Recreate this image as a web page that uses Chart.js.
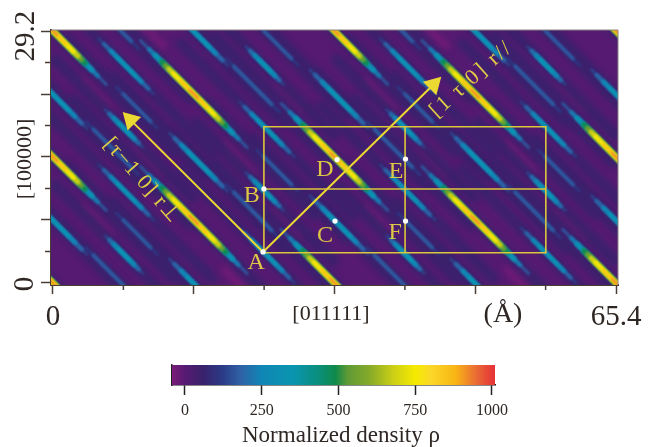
<!DOCTYPE html>
<html>
<head>
<meta charset="utf-8">
<title>Normalized density</title>
<script src="https://cdn.jsdelivr.net/npm/chart.js@4/dist/chart.umd.js"></script>
<style>
  html, body { margin: 0; padding: 0; background: #fff; }
  canvas { position: absolute; left: 0; }
  #densidade { top: 0; }
  #barra { top: 340px; }
</style>
</head>
<body>
<canvas id="densidade" width="653" height="340"></canvas>
<canvas id="barra" width="653" height="107"></canvas>
<script>
// axis ticks, in angstrom
const xTicks = [0, 8.175, 16.35, 24.525, 32.7, 40.875, 49.05, 57.225, 65.4];
const yTicks = [0, 3.65, 7.3, 10.95, 14.6, 18.25, 21.9, 25.55, 29.2];
const rhoTicks = [0, 125, 250, 375, 500, 625, 750, 875, 1000];

// colour bar
const rhoValues = [-42, 0, 60, 120, 180, 250, 350, 430, 490, 530, 600, 680, 750, 800, 880, 950, 1010];
const rhoColours = ["#7a1c78", "#561a72", "#38226c", "#2b3a85", "#2f60a5", "#0f86b5", "#0a95b0", "#0a8f80",
  "#0f8a4a", "#5f9a35", "#85aa2a", "#cdd015", "#f5ea00", "#fad828", "#f9b515", "#ea6a35", "#e62f38"];

const brightCentres = [[0, 0], [0, 14.6], [0, 29.2], [16.35, 7.3], [16.35, 21.9], [32.7, 0], [32.7, 14.6], [32.7, 29.2],
  [49.05, 7.3], [49.05, 21.9], [65.4, 0], [65.4, 14.6], [65.4, 29.2]];
const longCyanCentres = [[8.5, 25.1], [8.5, 10.5], [24.85, 17.8], [24.85, 3.2], [41.2, 25.1], [41.2, 10.5], [57.55, 17.8], [57.55, 3.2]];
const edgeCyanCentres = [[0.55, 21.3], [0.55, 6.7], [16.9, 28.6], [16.9, 14], [16.9, -0.6], [33.25, 21.3], [33.25, 6.7],
  [49.6, 28.6], [49.6, 14], [49.6, -0.6], [65.95, 21.3], [65.95, 6.7]];
const shortCyanCentres = [[8.25, 17.9], [8.25, 3.3], [24.6, 25.2], [24.6, 10.6], [40.95, 17.9], [40.95, 3.3], [57.3, 25.2], [57.3, 10.6]];
const shortBlueCentres = [[9.75, 20.3], [9.75, 5.7], [26.1, 27.6], [26.1, 13], [42.45, 20.3], [42.45, 5.7], [58.8, 27.6], [58.8, 13]];
const longBlueCentres = [[6.9, 30.2], [6.9, 15.6], [6.9, 1], [23.2, 22.9], [23.2, 8.3], [39.55, 30.2], [39.55, 15.6], [39.55, 1], [55.9, 22.9], [55.9, 8.3]];
const lowCentres = [[5.1, 21.8], [5.1, 7.2], [21.5, 14.5], [21.5, 0], [37.9, 21.8], [37.9, 7.2], [54.3, 14.5], [54.3, 0],
  [27.5, 21.8], [27.5, 7.2], [11.2, 14.5], [11.2, 29], [44.1, 29], [44.1, 14.5], [60.4, 21.8], [60.4, 7.2]];

// contours of one ridge [half length, rho]
const brightLevels = [[14, 55], [6.2, 170], [5.2, 230], [4.5, 320], [3.7, 480], [3.3, 560], [2.9, 680], [2.4, 760], [1.5, 860], [0.5, 950]];
const longCyanLevels = [[10, 55], [3.2, 130], [2.6, 190], [1.8, 260], [1.1, 340]];
const edgeCyanLevels = [[10, 55], [3.4, 140], [2.8, 190], [2, 260], [1.3, 340]];
const shortCyanLevels = [[8, 55], [2.2, 140], [1.7, 200], [1.2, 270], [0.7, 340]];
const shortBlueLevels = [[8, 55], [2.4, 120], [1.6, 170]];
const longBlueLevels = [[9, 55], [3.1, 120], [2.2, 170]];
const lowLevels = [[1.6, -40]];

// box, arrows and marked sites
const boxOutline = [[24.5, 3.5], [57.25, 3.5], [57.25, 18.1], [24.5, 18.1], [24.5, 3.5]];
const boxMiddle = [[24.5, 10.9], [57.25, 10.9]];
const boxDivider = [[40.9, 3.5], [40.9, 18.1]];
const arrowPerp = [[24.4, 3.6], [9.0, 18.9]];
const arrowPar = [[24.4, 3.6], [44.2, 23.0]];
const siteNames = ["A", "B", "C", "D", "E", "F"];
const sitePoints = [[24.4, 3.6], [24.5, 10.9], [32.76, 7.18], [33, 14.3], [40.95, 14.37], [40.95, 7.18]];
const siteLabels = [[23.6, 2.4], [23.1, 10.1], [31.6, 5.5], [31.6, 13.1], [39.85, 12.9], [39.75, 5.8]];

const serif = "'Liberation Serif', serif";
const inkColor = "#2e2723";
const axisColor = "#4a3d33";
const boxColor = "#dcc63c";
const arrowColor = "#ecd833";

function hexRgb(h) {
  return [1, 3, 5].map(i => parseInt(h.substr(i, 2), 16));
}

function rhoColour(rho) {
  let i = 0;
  while (i < rhoValues.length - 2 && rho > rhoValues[i + 1]) i++;
  const t = Math.min(1, Math.max(0, (rho - rhoValues[i]) / (rhoValues[i + 1] - rhoValues[i])));
  const a = hexRgb(rhoColours[i]);
  const b = hexRgb(rhoColours[i + 1]);
  return `rgb(${a.map((v, k) => Math.round(v + (b[k] - v) * t)).join(",")})`;
}

function ridgeDatasets(centres, levels, widths) {
  const out = [];
  centres.forEach(([cx, cy]) => {
    levels.forEach(([half, rho], i) => {
      out.push({
        data: [{ x: cx - half, y: cy + half }, { x: cx + half, y: cy - half }],
        showLine: true,
        borderColor: rhoColour(rho),
        borderWidth: widths[i],
        borderCapStyle: "round",
        pointRadius: 0,
        order: -rho,
        blur: rho < 100 ? 3 : 0.8
      });
    });
  });
  return out;
}

function lineDataset(points, color, width, extra) {
  return Object.assign({
    data: points.map(([x, y]) => ({ x, y })),
    showLine: true,
    borderColor: color,
    backgroundColor: color,
    borderWidth: width,
    pointRadius: 0,
    order: -5000
  }, extra || {});
}

const datasets = [
  ...ridgeDatasets(lowCentres, lowLevels, [6]),
  ...ridgeDatasets(brightCentres, brightLevels, [11, 2.6, 4.2, 5.2, 5.6, 5.2, 4.8, 4, 2.4, 1.4]),
  ...ridgeDatasets(longCyanCentres, longCyanLevels, [11, 2.4, 4, 4.2, 2.8]),
  ...ridgeDatasets(edgeCyanCentres, edgeCyanLevels, [11, 2.4, 4.4, 4.4, 3]),
  ...ridgeDatasets(shortCyanCentres, shortCyanLevels, [11, 2.4, 4.4, 4.4, 3]),
  ...ridgeDatasets(shortBlueCentres, shortBlueLevels, [9, 2.4, 3.6]),
  ...ridgeDatasets(longBlueCentres, longBlueLevels, [9, 2.4, 3.8]),
  lineDataset(boxOutline, boxColor, 1.6),
  lineDataset(boxMiddle, boxColor, 1.6),
  lineDataset(boxDivider, boxColor, 1.6),
  lineDataset(arrowPerp, arrowColor, 2, {
    pointRadius: c => c.dataIndex === 1 ? 9 : 0, pointStyle: "triangle", rotation: 315
  }),
  lineDataset(arrowPar, arrowColor, 2, {
    pointRadius: c => c.dataIndex === 1 ? 9 : 0, pointStyle: "triangle", rotation: 45
  }),
  lineDataset(sitePoints, "#ffffff", 0, { showLine: false, pointRadius: 2.6, order: -6000 })
];

function drawText(ctx, text, x, y, font, color, angle, spacing) {
  ctx.save();
  ctx.translate(x, y);
  ctx.rotate((angle || 0) * Math.PI / 180);
  ctx.font = font;
  ctx.fillStyle = color;
  ctx.textAlign = "center";
  ctx.textBaseline = "middle";
  if (spacing) ctx.letterSpacing = spacing;
  ctx.fillText(text, 0, 0);
  ctx.restore();
}

const mapPlugin = {
  id: "mapa",
  beforeDatasetsDraw(chart) {
    const { ctx, chartArea: a } = chart;
    ctx.save();
    ctx.fillStyle = rhoColour(0);
    ctx.fillRect(a.left, a.top, a.right - a.left, a.bottom - a.top);
    ctx.restore();
  },
  beforeDatasetDraw(chart, args) {
    const ds = chart.data.datasets[args.index];
    if (ds.blur) {
      chart.ctx.save();
      chart.ctx.filter = `blur(${ds.blur}px)`;
    }
  },
  afterDatasetDraw(chart, args) {
    if (chart.data.datasets[args.index].blur) chart.ctx.restore();
  },
  afterDatasetsDraw(chart) {
    const { ctx, chartArea: a, scales: { x, y } } = chart;
    // frame top and right
    ctx.save();
    ctx.strokeStyle = "#8c8484";
    ctx.lineWidth = 1;
    ctx.beginPath();
    ctx.moveTo(a.left, a.top);
    ctx.lineTo(a.right, a.top);
    ctx.lineTo(a.right, a.bottom);
    ctx.stroke();
    // short ticks
    ctx.strokeStyle = axisColor;
    ctx.lineWidth = 1.5;
    ctx.beginPath();
    xTicks.forEach((v, i) => {
      if (i % 2 === 0) return;
      const px = x.getPixelForValue(v);
      ctx.moveTo(px, a.bottom);
      ctx.lineTo(px, a.bottom + 5);
    });
    yTicks.forEach((v, i) => {
      if (i % 2 === 0) return;
      const py = y.getPixelForValue(v);
      ctx.moveTo(a.left, py);
      ctx.lineTo(a.left - 6, py);
    });
    ctx.stroke();
    ctx.restore();

    siteNames.forEach((name, i) => {
      const [lx, ly] = siteLabels[i];
      drawText(ctx, name, x.getPixelForValue(lx), y.getPixelForValue(ly), `24px ${serif}`, "#dcc844");
    });
    drawText(ctx, "[τ−1 0] r⊥", x.getPixelForValue(10.3), y.getPixelForValue(11.9), `22px ${serif}`, "#e0cc44", 49, "1px");
    drawText(ctx, "[1 τ 0] r//", x.getPixelForValue(48.6), y.getPixelForValue(23.6), `22px ${serif}`, "#e0cc44", -42, "2px");

    drawText(ctx, "29.2", 26, 36, `29px ${serif}`, inkColor, -90);
    drawText(ctx, "0", 25, 284, `29px ${serif}`, inkColor, -90);
    drawText(ctx, "[100000]", 25, 159, `22px ${serif}`, inkColor, -90);
    drawText(ctx, "[011111]", 331, 314, `22px ${serif}`, inkColor);
    drawText(ctx, "(Å)", 503, 315, `28px ${serif}`, inkColor);
  }
};

new Chart(document.getElementById("densidade"), {
  type: "scatter",
  data: { datasets },
  plugins: [mapPlugin],
  options: {
    responsive: false,
    animation: false,
    layout: { padding: { top: 30, right: 35, left: 0, bottom: 0 } },
    plugins: { legend: { display: false }, tooltip: { enabled: false } },
    scales: {
      x: {
        type: "linear",
        min: -0.232,
        max: 65.632,
        afterBuildTicks: s => { s.ticks = xTicks.map(value => ({ value })); },
        afterFit: s => { s.height = 55; },
        border: { color: axisColor, width: 2 },
        grid: {
          drawOnChartArea: false,
          tickLength: 9,
          tickWidth: 1.5,
          tickColor: c => c.index % 2 ? "transparent" : axisColor
        },
        ticks: {
          autoSkip: false,
          maxRotation: 0,
          padding: 6,
          color: inkColor,
          font: { family: serif, size: 29 },
          callback: v => v === 0 ? "0" : v === 65.4 ? "65.4" : ""
        }
      },
      y: {
        type: "linear",
        min: -0.232,
        max: 29.316,
        afterBuildTicks: s => { s.ticks = yTicks.map(value => ({ value })); },
        afterFit: s => { s.width = 51; },
        border: { color: axisColor, width: 2 },
        grid: {
          drawOnChartArea: false,
          tickLength: 10,
          tickWidth: 1.5,
          tickColor: c => c.index % 2 ? "transparent" : axisColor
        },
        ticks: { display: false }
      }
    }
  }
});

// colour bar
function barGradient(c) {
  const { ctx, chartArea, scales } = c.chart;
  if (!chartArea) return rhoColours[0];
  const g = ctx.createLinearGradient(chartArea.left, 0, chartArea.right, 0);
  const lo = scales.x.min;
  const hi = scales.x.max;
  rhoValues.forEach((v, i) => {
    g.addColorStop(Math.min(1, Math.max(0, (v - lo) / (hi - lo))), rhoColours[i]);
  });
  return g;
}

const barPlugin = {
  id: "barra",
  afterDraw(chart) {
    drawText(chart.ctx, "Normalized density ρ", 341, 96, `23px ${serif}`, inkColor);
  }
};

new Chart(document.getElementById("barra"), {
  type: "bar",
  data: {
    labels: ["ρ"],
    datasets: [{
      data: [[rhoValues[0], rhoValues[rhoValues.length - 1]]],
      backgroundColor: barGradient,
      barPercentage: 1,
      categoryPercentage: 1
    }]
  },
  plugins: [barPlugin],
  options: {
    indexAxis: "y",
    responsive: false,
    animation: false,
    layout: { padding: { top: 25, left: 0, right: 158, bottom: 0 } },
    plugins: { legend: { display: false }, tooltip: { enabled: false } },
    scales: {
      x: {
        type: "linear",
        min: -42.3,
        max: 1009.8,
        afterBuildTicks: s => { s.ticks = rhoTicks.map(value => ({ value })); },
        afterFit: s => { s.height = 62; },
        border: { color: "#111", width: 1.5 },
        grid: {
          drawOnChartArea: false,
          tickLength: 10,
          tickWidth: 1.5,
          tickColor: c => c.index % 2 ? "transparent" : "#222"
        },
        ticks: {
          autoSkip: false,
          maxRotation: 0,
          padding: 6,
          color: inkColor,
          font: { family: serif, size: 16 },
          callback: v => v % 250 === 0 ? String(v) : ""
        }
      },
      y: {
        afterFit: s => { s.width = 172; },
        border: { color: "#222", width: 1.5 },
        grid: { display: false },
        ticks: { display: false }
      }
    }
  }
});
</script>
</body>
</html>
